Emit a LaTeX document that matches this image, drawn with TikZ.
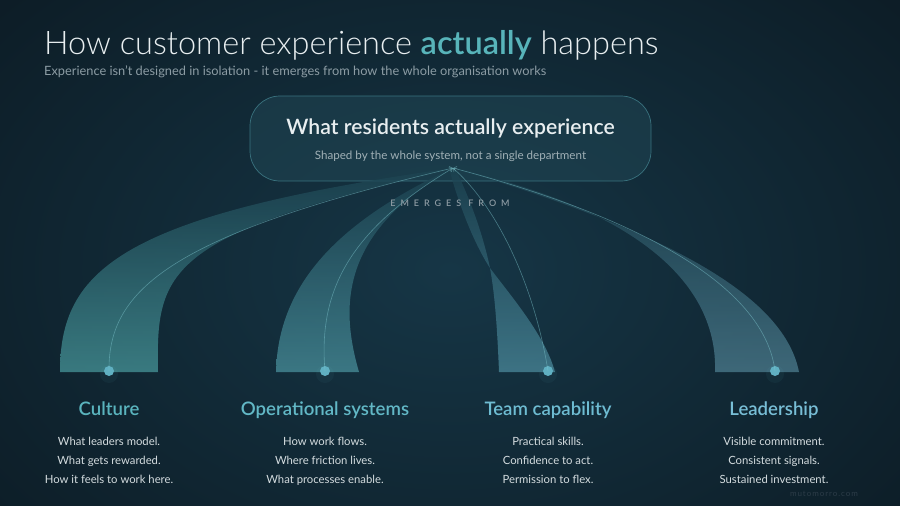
\documentclass[tikz,border=0pt]{standalone}
\usepackage{fontspec}
\usetikzlibrary{arrows.meta}
\setmainfont{Lato}
\IfFontExistsTF{Lato Light}{\newfontfamily\ttlfont{Lato Light}}{\newfontfamily\ttlfont{Lato}}
\IfFontExistsTF{Lato Semibold}{\newfontfamily\semfont{Lato Semibold}}{\newcommand\semfont{\bfseries}}
\definecolor{bgin}{RGB}{22,54,70}
\definecolor{bgout}{RGB}{10,22,30}
\definecolor{titlecol}{RGB}{232,238,240}
\definecolor{accent}{RGB}{88,180,186}
\definecolor{subcol}{RGB}{140,156,164}
\definecolor{boxfill}{RGB}{32,70,84}
\definecolor{boxline}{RGB}{62,122,134}
\definecolor{boxsub}{RGB}{160,176,182}
\definecolor{emcol}{RGB}{140,154,162}
\definecolor{desccol}{RGB}{212,220,223}
\definecolor{wmcol}{RGB}{44,60,72}
\definecolor{linecol}{RGB}{124,196,204}
\definecolor{rtop}{RGB}{28,66,80}
\definecolor{rbcul}{RGB}{70,148,152}
\definecolor{rbops}{RGB}{72,142,154}
\definecolor{rbteam}{RGB}{74,136,154}
\definecolor{rblead}{RGB}{76,124,142}
\definecolor{hcul}{RGB}{90,180,190}
\definecolor{hops}{RGB}{98,184,198}
\definecolor{hteam}{RGB}{110,188,210}
\definecolor{hlead}{RGB}{120,190,214}
\definecolor{dotcol}{RGB}{96,176,194}
\tikzset{
  ribbon/.style={top color=rtop, fill opacity=0.76},
  thinline/.style={draw=linecol, line width=0.6pt, opacity=0.5, -{Straight Barb[length=3pt,width=5pt]}},
  dotst/.style={circle, fill=dotcol, minimum size=10pt, inner sep=0pt},
  headst/.style={anchor=base, inner sep=0pt, font=\semfont\fontsize{18.6}{21}\selectfont},
  descst/.style={anchor=base, inner sep=0pt, text=desccol, font=\fontsize{11.3}{13}\selectfont},
}
\begin{document}
\begin{tikzpicture}[x=1pt,y=-1pt]
\useasboundingbox (0,0) rectangle (900,506);
\fill[bgout] (0,0) rectangle (900,506);
\begin{scope}
  \clip (0,0) rectangle (900,506);
  \shade[inner color=bgin, outer color=bgout] (450,270) ellipse (760 and 520);
\end{scope}

% title
\node[anchor=base west, inner sep=0pt, text=titlecol] (title) at (44,54)
  {\ttlfont\fontsize{32.5}{38}\selectfont How customer experience {\semfont\color{accent}actually} happens};
\node[anchor=base west, inner sep=0pt, text=subcol] (subtitle) at (44,75)
  {\fontsize{12.8}{15}\selectfont Experience isn't designed in isolation - it emerges from how the whole organisation works};

% top box
\node[draw=boxline, line width=0.7pt, fill=boxfill, fill opacity=0.55, draw opacity=0.9,
      rounded corners=30pt, minimum width=401pt, minimum height=85pt, inner sep=0pt] (box) at (450.5,138.5) {};
\coordinate (conv) at (453,168);

% ribbons
\shade[ribbon, bottom color=rbcul]
  (60,372) .. controls (60,270) and (120,215) .. (conv)
  .. controls (165,235) and (156,270) .. (158,372) -- cycle;
\shade[ribbon, bottom color=rbops]
  (276,372) .. controls (278,290) and (330,225) .. (conv)
  .. controls (345,230) and (338,300) .. (359,372) -- cycle;
\shade[ribbon, bottom color=rbteam]
  (499,372) .. controls (497,320) and (494,290) .. (490,268)
  .. controls (482,230) and (468,195) .. (456,170) -- (450,172)
  .. controls (462,215) and (478,250) .. (490,268)
  .. controls (510,295) and (545,335) .. (555,372) -- cycle;
\shade[ribbon, bottom color=rblead]
  (715,372) .. controls (718,285) and (640,210) .. (conv)
  .. controls (680,235) and (785,300) .. (799,372) -- cycle;

% dots
\foreach \n/\x in {cul/109,ops/325,team/548,lead/775}{
  \fill[dotcol, opacity=0.06] (\x,374) circle (9pt);
  \node[dotst] (d-\n) at (\x,371) {};
}

% thin lines
\draw[thinline] (d-cul.center) .. controls (108,290) and (170,235) .. (conv);
\draw[thinline] (d-ops.center) .. controls (318,290) and (350,230) .. (conv);
\draw[thinline] (d-team.center) .. controls (535,290) and (500,210) .. (conv);
\draw[thinline] (d-lead.center) .. controls (765,290) and (650,220) .. (conv);

% box texts
\node[anchor=base, inner sep=0pt, text=titlecol] (boxhead) at (450.5,134.3)
  {\semfont\fontsize{21.2}{25}\selectfont What residents actually experience};
\node[anchor=base, inner sep=0pt, text=boxsub] (boxsub) at (450.5,159)
  {\fontsize{11.6}{13}\selectfont Shaped by the whole system, not a single department};

\node[anchor=base, inner sep=0pt, text=emcol] (emerges) at (450,206.5)
  {\semfont\fontsize{9}{10}\selectfont\addfontfeature{LetterSpace=55}EMERGES FROM};

% columns
\foreach \n/\x/\c/\h/\a/\b/\cc in {
  cul/109/hcul/Culture/What leaders model./What gets rewarded./How it feels to work here.,
  ops/325/hops/Operational systems/How work flows./Where friction lives./What processes enable.,
  team/548/hteam/Team capability/Practical skills./Confidence to act./Permission to flex.,
  lead/774/hlead/Leadership/Visible commitment./Consistent signals./Sustained investment.}{
  \node[headst, text=\c] (h-\n) at (\x,415) {\h};
  \node[descst] (a-\n) at (\x,445) {\a};
  \node[descst] (b-\n) at (\x,464.3) {\b};
  \node[descst] (c-\n) at (\x,483.5) {\cc};
}

\node[anchor=base, inner sep=0pt, text=wmcol] (wm) at (824,496)
  {\fontsize{8}{9}\selectfont\addfontfeature{LetterSpace=12}mutomorro.com};
\end{tikzpicture}
\end{document}
